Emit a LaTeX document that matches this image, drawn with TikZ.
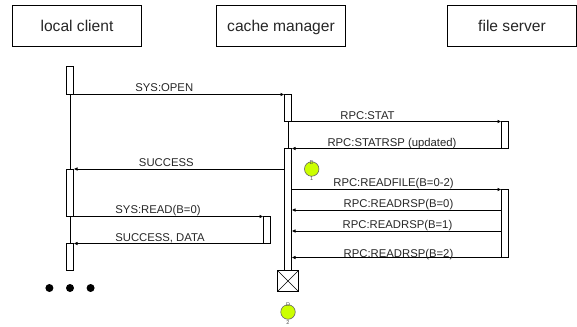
\documentclass[tikz,border=0pt]{standalone}
\usepackage{fontspec}
\setmainfont{Liberation Sans}
\usetikzlibrary{arrows.meta}
\definecolor{lime}{RGB}{204,255,0}
\tikzset{
  x=1pt,y=-1pt,
  actor/.style={draw=black,line width=1pt,outer sep=0pt,minimum width=129pt,minimum height=41pt,inner sep=0pt,text height=11.5pt,text depth=0pt,font=\fontsize{15.6}{18}\selectfont,text=black!85},
  msg/.style={line width=1pt,draw=black,-{Latex[length=4pt,width=3.5pt]}},
  life/.style={line width=1pt,draw=black},
  act/.style={draw=black,line width=1pt,fill=white,inner sep=0pt,outer sep=0pt,minimum width=7pt},
  lab/.style={font=\fontsize{11.3}{13}\selectfont,text=black!85,inner sep=0pt,text height=8.2pt,text depth=0pt},
  dotn/.style={circle,fill=black,inner sep=0pt,minimum size=8pt},
  probe/.style={circle,draw=black!60,line width=0.6pt,fill=lime,inner sep=0pt,minimum size=14.5pt},
  tiny/.style={font=\fontsize{5.5}{6}\selectfont,text=black!70,inner sep=0pt},
}
\begin{document}
\begin{tikzpicture}
\useasboundingbox (0,0) rectangle (577,326);
% actors
\node[actor] (lc) at (77,26) {local client};
\node[actor] (cm) at (281,26) {cache manager};
\node[actor] (fs) at (512,26) {file server};
% activations
\node[act,minimum height=28pt] (a1) at (70,80.5) {};
\node[act,minimum height=47.5pt] (a2) at (70,192.75) {};
\node[act,minimum height=27pt] (a3) at (70,257) {};
\node[act,minimum height=27pt] (b1) at (288,108) {};
\node[act,minimum height=122pt] (b2) at (288,209.5) {};
\node[act,minimum height=27pt] (b3) at (267,230) {};
\node[act,minimum height=27pt] (s1) at (505,135) {};
\node[act,minimum height=68pt] (s2) at (505,223.5) {};
% lifelines
\draw[life] (a1.south) -- (a2.north);
\draw[life] (a2.south) -- (a3.north);
\draw[life] (b1.south) -- (b2.north);
% destruction box
\node[draw=black,line width=1pt,fill=white,outer sep=0pt,minimum size=21pt,inner sep=0pt] (x) at (288,281) {};
\draw[line width=0.6pt] (x.north west) -- (x.south east) (x.north east) -- (x.south west);
% messages
\draw[msg] (a1.south east) -- (b1.north west) node[lab,midway,xshift=-14.7pt,yshift=7.2pt] (t1) {SYS:OPEN};
\draw[msg] (b1.south east) -- (s1.north west) node[lab,midway,xshift=-29pt,yshift=6.5pt] (t2) {RPC:STAT};
\draw[msg] (s1.south west) -- (b2.north east) node[lab,midway,xshift=-4.5pt,yshift=6.5pt] (t3) {RPC:STATRSP (updated)};
\draw[msg] (b2.west |- a2.north) -- (a2.north east) node[lab,midway,xshift=-12.7pt,yshift=7pt] (t4) {SUCCESS};
\draw[msg] (b2.east |- s2.north) -- (s2.north west) node[lab,pos=0.5,xshift=-3pt,yshift=7.6pt] (t5) {RPC:READFILE(B=0-2)};
\coordinate (p0a) at (s2.west |- 0,210);
\coordinate (p1a) at (s2.west |- 0,231);
\draw[msg] (p0a) -- (b2.east |- p0a) node[lab,midway,xshift=2pt,yshift=6.7pt] (t6) {RPC:READRSP(B=0)};
\draw[msg] (p1a) -- (b2.east |- p1a) node[lab,midway,xshift=1pt,yshift=6.5pt] (t7) {RPC:READRSP(B=1)};
\draw[msg] (s2.south west) -- (b2.east |- s2.south) node[lab,midway,xshift=2pt,yshift=4.6pt] (t8) {RPC:READRSP(B=2)};
\draw[msg] (a2.south east) -- (b3.north west) node[lab,midway,xshift=-10.5pt,yshift=7.5pt] (t9) {SYS:READ(B=0)};
\draw[msg] (b3.south west) -- (a3.north east) node[lab,midway,xshift=-8.5pt,yshift=5.7pt] (t10) {SUCCESS, DATA};
% dots
\node[dotn] (d1) at (49.4,288) {};
\node[dotn] (d2) at (70,288) {};
\node[dotn] (d3) at (90.6,288) {};
% probes
\node[probe] (p1) at (311.7,169) {};
\node[tiny] (p1d) at (311.7,162.8) {D};
\node[tiny] (p1n) at (311.7,178.4) {1};
\node[probe] (p2) at (288,312) {};
\node[tiny] (p2d) at (288,304.8) {D};
\node[tiny] (p2n) at (288,322.2) {2};
\end{tikzpicture}
\end{document}
